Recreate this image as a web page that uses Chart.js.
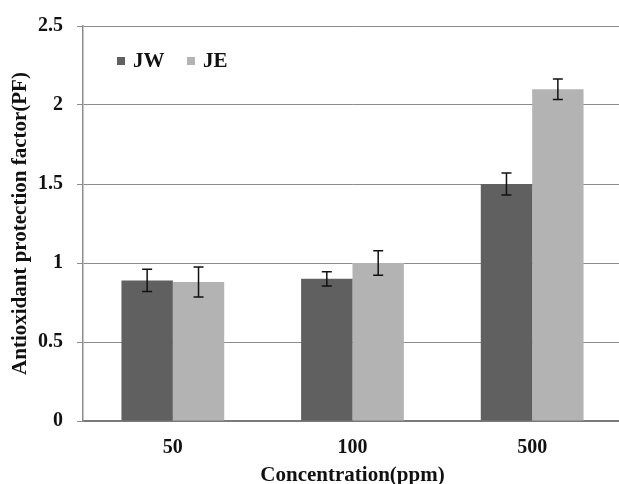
<!DOCTYPE html>
<html>
<head>
<meta charset="utf-8">
<script src="https://cdn.jsdelivr.net/npm/chart.js@4.4.1/dist/chart.umd.min.js"></script>
<style>
  html, body { margin: 0; padding: 0; background: #fff; overflow: hidden; }
  #wrap { width: 622px; height: 484px; position: relative; }
</style>
</head>
<body>
<div id="wrap"><canvas id="myChart"></canvas></div>
<script>
// data
const categories = ['50', '100', '500'];
const jwValues = [0.89, 0.90, 1.50];
const jeValues = [0.88, 1.00, 2.10];
const jwErrors = [0.07, 0.045, 0.07];
const jeErrors = [0.095, 0.077, 0.065];
const yTicks = [0, 0.5, 1, 1.5, 2, 2.5];

const serif = "'Liberation Serif', 'Times New Roman', serif";

// error bars from the errors stored on each dataset
const errorBars = {
    id: 'errorBars',
    afterDatasetsDraw(chart) {
        const ctx = chart.ctx;
        const y = chart.scales.y;
        ctx.save();
        ctx.strokeStyle = '#111';
        ctx.lineWidth = 1.5;
        chart.data.datasets.forEach((ds, i) => {
            const meta = chart.getDatasetMeta(i);
            meta.data.forEach((bar, j) => {
                const v = ds.data[j], e = ds.errors[j];
                const top = y.getPixelForValue(v + e);
                const bot = y.getPixelForValue(v - e);
                const x = bar.x;
                ctx.beginPath();
                ctx.moveTo(x, top); ctx.lineTo(x, bot);
                ctx.moveTo(x - 5, top); ctx.lineTo(x + 5, top);
                ctx.moveTo(x - 5, bot); ctx.lineTo(x + 5, bot);
                ctx.stroke();
            });
        });
        ctx.restore();
    }
};

// legend drawn inside the plot, top left
const insideLegend = {
    id: 'insideLegend',
    afterDraw(chart) {
        const ctx = chart.ctx;
        const area = chart.chartArea;
        let x = area.left + 34;
        const yMid = 61;
        ctx.save();
        ctx.font = "bold 21px " + serif;
        ctx.textBaseline = 'middle';
        ctx.textAlign = 'left';
        chart.data.datasets.forEach(ds => {
            ctx.fillStyle = ds.backgroundColor;
            ctx.fillRect(x, yMid - 4, 8, 8);
            ctx.fillStyle = '#111';
            ctx.fillText(ds.label, x + 16, yMid + 1);
            x += 70;
        });
        ctx.restore();
    }
};

const ctx = document.getElementById('myChart').getContext('2d');
const chart = new Chart(ctx, {
    type: 'bar',
    data: {
        labels: categories,
        datasets: [
            {
                label: 'JW',
                backgroundColor: '#606060',
                data: jwValues,
                errors: jwErrors,
                categoryPercentage: 0.572,
                barPercentage: 1.0
            },
            {
                label: 'JE',
                backgroundColor: '#b3b3b3',
                data: jeValues,
                errors: jeErrors,
                categoryPercentage: 0.572,
                barPercentage: 1.0
            }
        ]
    },
    options: {
        responsive: true,
        maintainAspectRatio: false,
        animation: false,
        layout: { padding: { top: 19, left: 0, right: 0, bottom: 0 } },
        plugins: {
            legend: { display: false },
            tooltip: { enabled: false }
        },
        scales: {
            x: {
                grid: { display: false, drawTicks: false },
                border: { display: true, color: '#7a7a7a', width: 2 },
                ticks: {
                    color: '#111',
                    padding: 15,
                    font: { family: serif, size: 20, weight: 'bold' }
                },
                title: {
                    display: true,
                    text: 'Concentration(ppm)',
                    color: '#111',
                    padding: { top: 2, bottom: -4 },
                    font: { family: serif, size: 21, weight: 'bold' }
                },
                afterFit(scale) { scale.height = 63; }
            },
            y: {
                min: 0,
                max: 2.5,
                afterBuildTicks(scale) {
                    scale.ticks = yTicks.map(v => ({ value: v }));
                },
                grid: { color: '#8c8c8c', lineWidth: 1, drawTicks: true, tickLength: 6 },
                border: { display: true, color: '#8c8c8c', width: 1.5 },
                ticks: {
                    color: '#111',
                    padding: 14,
                    font: { family: serif, size: 20, weight: 'bold' },
                    callback: v => String(v)
                },
                title: {
                    display: true,
                    text: 'Antioxidant protection factor(PF)',
                    color: '#111',
                    padding: { top: 8, bottom: 0 },
                    font: { family: serif, size: 21, weight: 'bold' }
                },
                afterFit(scale) { scale.width = 83; }
            }
        }
    },
    plugins: [errorBars, insideLegend]
});
</script>
</body>
</html>
